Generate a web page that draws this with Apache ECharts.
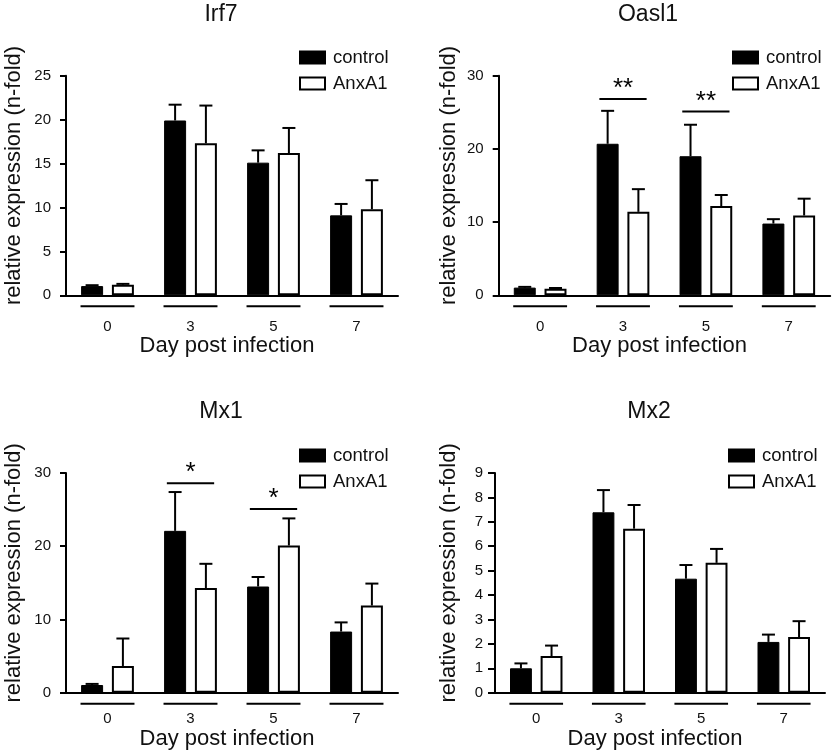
<!DOCTYPE html>
<html><head><meta charset="utf-8">
<script src="https://cdn.jsdelivr.net/npm/echarts@6/dist/echarts.min.js"></script>
<style>html,body{margin:0;padding:0;background:#fff}#c{width:833px;height:753px}</style>
</head><body><div id="c"></div>
<script>
// ---- data ----
const days = ['0', '3', '5', '7'];
const groupNames = ['control', 'AnxA1'];
const panelTitles = ['Irf7', 'Oasl1', 'Mx1', 'Mx2'];

const irf7Control = [1.05, 19.9, 15.1, 9.1];
const irf7ControlErr = [0.1, 1.8, 1.4, 1.3];
const irf7Anx = [1.2, 17.3, 16.2, 9.8];
const irf7AnxErr = [0.1, 4.3, 2.85, 3.3];

const oasl1Control = [1.05, 20.7, 19.0, 9.8];
const oasl1ControlErr = [0.1, 4.5, 4.3, 0.6];
const oasl1Anx = [0.9, 11.4, 12.2, 10.9];
const oasl1AnxErr = [0.1, 3.1, 1.5, 2.3];

const mx1Control = [1.05, 22.1, 14.5, 8.35];
const mx1ControlErr = [0.15, 5.3, 1.3, 1.25];
const mx1Anx = [3.65, 14.3, 20.1, 11.9];
const mx1AnxErr = [3.75, 3.3, 3.7, 3.0];

const mx2Control = [1.0, 7.39, 4.67, 2.08];
const mx2ControlErr = [0.2, 0.91, 0.56, 0.3];
const mx2Anx = [1.5, 6.72, 5.32, 2.28];
const mx2AnxErr = [0.43, 0.97, 0.57, 0.65];

// significance brackets: [day index, y level], labels
const oasl1Sig = [[1, 26.8], [2, 25.1]];
const oasl1SigLabels = ['**', '**'];
const mx1Sig = [[1, 28.6], [2, 25.1]];
const mx1SigLabels = ['*', '*'];

const yMax = [25, 30, 30, 9];
const yInterval = [5, 10, 10, 1];

// ---- layout ----
const FONT = 'Liberation Sans, Arial, Helvetica, sans-serif';
const panels = [
  {title: panelTitles[0], ctl: irf7Control, ctlErr: irf7ControlErr, anx: irf7Anx, anxErr: irf7AnxErr, sig: [], sigLab: [],
   grid: {left: 66, top: 75.7, width: 332, height: 219.6}, titlePos: [221, 15], legend: [299, 48], yGap: 41, yMargin: 15, xLabMargin: 24, xNameGap: 40, tickLen: 6},
  {title: panelTitles[1], ctl: oasl1Control, ctlErr: oasl1ControlErr, anx: oasl1Anx, anxErr: oasl1AnxErr, sig: oasl1Sig, sigLab: oasl1SigLabels,
   grid: {left: 498.7, top: 75.7, width: 331.5, height: 219.6}, titlePos: [648, 15], legend: [732, 48], yGap: 38.5, yMargin: 15, xLabMargin: 24, xNameGap: 40, tickLen: 6},
  {title: panelTitles[2], ctl: mx1Control, ctlErr: mx1ControlErr, anx: mx1Anx, anxErr: mx1AnxErr, sig: mx1Sig, sigLab: mx1SigLabels,
   grid: {left: 66, top: 473, width: 332, height: 219.7}, titlePos: [221, 412], legend: [299, 446], yGap: 41, yMargin: 15, xLabMargin: 19, xNameGap: 34, tickLen: 6},
  {title: panelTitles[3], ctl: mx2Control, ctlErr: mx2ControlErr, anx: mx2Anx, anxErr: mx2AnxErr, sig: [], sigLab: [],
   grid: {left: 495, top: 473, width: 330, height: 219.7}, titlePos: [649, 412], legend: [728, 446], yGap: 35, yMargin: 12, xLabMargin: 19, xNameGap: 34, tickLen: 7}
];

const BAR_W = 0.265, BAR_GAP = 0.4;
const BAR_OFF = (BAR_W + BAR_W * BAR_GAP) / 2;

function errRender(side) {
  return function (params, api) {
    const i = api.value(0), v = api.value(1), e = api.value(2);
    const base = api.coord([i, v]);
    const top = api.coord([i, v + e]);
    const band = api.size([1, 0])[0];
    const x = base[0] + side * band * BAR_OFF;
    const cap = 6.5;
    return {type: 'group', children: [
      {type: 'line', shape: {x1: x, y1: base[1], x2: x, y2: top[1]}, style: {stroke: '#000', lineWidth: 2}},
      {type: 'line', shape: {x1: x - cap, y1: top[1], x2: x + cap, y2: top[1]}, style: {stroke: '#000', lineWidth: 2}}
    ]};
  };
}
function underlineRender(params, api) {
  const p = api.coord([api.value(0), 0]);
  const band = api.size([1, 0])[0];
  const h = band * 0.325;
  return {type: 'line', shape: {x1: p[0] - h, y1: p[1] + 11, x2: p[0] + h, y2: p[1] + 11},
    style: {stroke: '#000', lineWidth: 2}};
}
function sigRender(labels) {
  return function (params, api) {
    const p = api.coord([api.value(0), api.value(1)]);
    const band = api.size([1, 0])[0];
    const h = band * 0.285;
    return {type: 'group', children: [
      {type: 'line', shape: {x1: p[0] - h, y1: p[1], x2: p[0] + h, y2: p[1]}, style: {stroke: '#000', lineWidth: 2}},
      {type: 'text', style: {text: labels[params.dataIndex], x: p[0], y: p[1] - 10, textAlign: 'center', textVerticalAlign: 'middle',
        font: '26px ' + FONT, fill: '#000'}}
    ]};
  };
}

const option = {
  animation: false,
  backgroundColor: '#fff',
  textStyle: {fontFamily: FONT},
  grid: [], xAxis: [], yAxis: [], series: [], legend: [], graphic: []
};

panels.forEach((pn, k) => {
  option.grid.push(Object.assign({containLabel: false}, pn.grid));
  option.xAxis.push({
    type: 'category', gridIndex: k, data: days,
    axisLine: {show: true, lineStyle: {color: '#000', width: 2}},
    axisTick: {show: false},
    axisLabel: {color: '#111', fontSize: 15, margin: pn.xLabMargin, fontFamily: FONT},
    name: 'Day post infection', nameLocation: 'middle', nameGap: pn.xNameGap,
    nameTextStyle: {color: '#111', fontSize: 22, fontFamily: FONT, padding: [0, 10, 0, 0]}
  });
  option.yAxis.push({
    type: 'value', gridIndex: k, min: 0, max: yMax[k], interval: yInterval[k],
    axisLine: {show: true, lineStyle: {color: '#000', width: 2}},
    axisTick: {show: true, inside: false, length: pn.tickLen, lineStyle: {color: '#000', width: 2}},
    axisLabel: {color: '#111', fontSize: 15, margin: pn.yMargin, fontFamily: FONT},
    splitLine: {show: false},
    name: 'relative expression (n-fold)', nameLocation: 'middle', nameGap: pn.yGap, nameRotate: 90,
    nameTextStyle: {color: '#111', fontSize: 22, fontFamily: FONT, padding: [0, 0, 0, 20]}
  });
  option.series.push({
    type: 'bar', name: groupNames[0], xAxisIndex: k, yAxisIndex: k, data: pn.ctl,
    barWidth: (BAR_W * 100) + '%', barGap: (BAR_GAP * 100) + '%',
    itemStyle: {color: '#000', borderColor: '#000', borderWidth: 1}, z: 2
  });
  option.series.push({
    type: 'bar', name: groupNames[1], xAxisIndex: k, yAxisIndex: k, data: pn.anx,
    barWidth: (BAR_W * 100) + '%', barGap: (BAR_GAP * 100) + '%',
    itemStyle: {color: '#fff', borderColor: '#000', borderWidth: 2}, z: 2
  });
  option.series.push({
    type: 'custom', name: 'err-c', xAxisIndex: k, yAxisIndex: k, renderItem: errRender(-1),
    data: pn.ctl.map((v, i) => [i, v, pn.ctlErr[i]]), encode: {x: 0, y: 1}, z: 3, silent: true
  });
  option.series.push({
    type: 'custom', name: 'err-a', xAxisIndex: k, yAxisIndex: k, renderItem: errRender(1),
    data: pn.anx.map((v, i) => [i, v, pn.anxErr[i]]), encode: {x: 0, y: 1}, z: 3, silent: true
  });
  option.series.push({
    type: 'custom', name: 'underline', xAxisIndex: k, yAxisIndex: k, renderItem: underlineRender,
    data: days.map((d, i) => [i, 0]), encode: {x: 0, y: 1}, z: 3, silent: true, clip: false
  });
  if (pn.sig.length) {
    option.series.push({
      type: 'custom', name: 'sig', xAxisIndex: k, yAxisIndex: k, renderItem: sigRender(pn.sigLab),
      data: pn.sig, encode: {x: 0, y: 1}, z: 3, silent: true, clip: false
    });
  }
  option.legend.push({
    data: groupNames, orient: 'vertical', left: pn.legend[0], top: pn.legend[1], padding: 0,
    icon: 'rect', itemWidth: 25, itemHeight: 12, itemGap: 7,
    textStyle: {color: '#111', fontSize: 18.5, fontFamily: FONT, lineHeight: 16, padding: [0, 0, 0, 3]},
    selectedMode: false
  });
  option.graphic.push({
    type: 'text', silent: true,
    style: {text: pn.title, x: pn.titlePos[0], y: pn.titlePos[1], textAlign: 'center', textVerticalAlign: 'middle',
      font: '23px ' + FONT, fill: '#111'}
  });
});

const chart = echarts.init(document.getElementById('c'), null, {renderer: 'canvas'});
chart.setOption(option);
</script>
</body></html>
